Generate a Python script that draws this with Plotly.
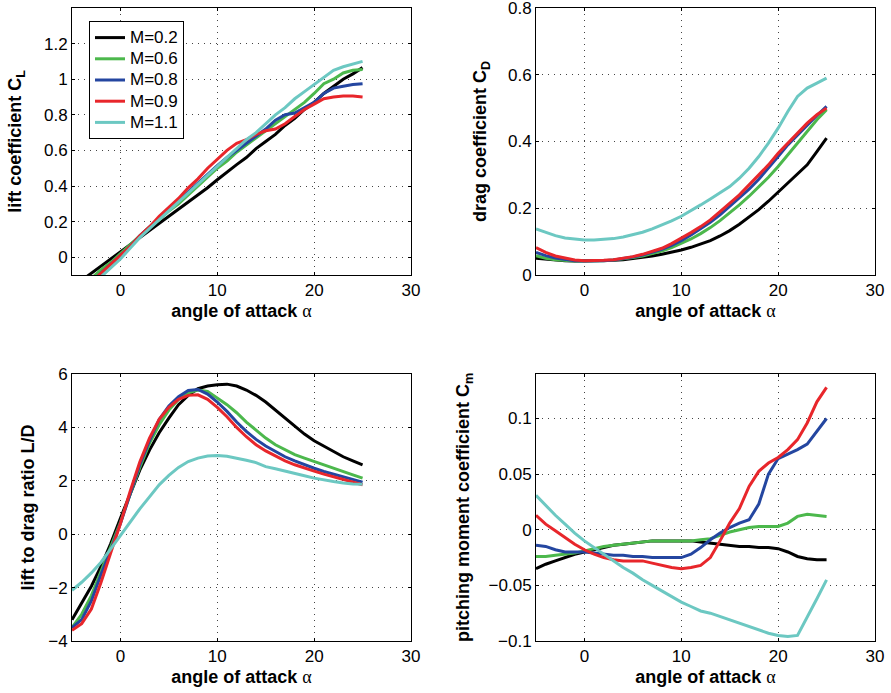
import plotly.graph_objects as go

alpha = list(range(-5, 26))
mach_labels = ["M=0.2", "M=0.6", "M=0.8", "M=0.9", "M=1.1"]
colors = ["#000000", "#4cb84c", "#2446a0", "#e8262b", "#6cc8c2"]

cl_m02 = [-0.17, -0.13, -0.09, -0.05, -0.01, 0.03, 0.07, 0.11, 0.15, 0.19, 0.23, 0.27, 0.31, 0.35, 0.39, 0.435,
          0.48, 0.52, 0.56, 0.61, 0.65, 0.69, 0.74, 0.78, 0.83, 0.87, 0.92, 0.96, 1.0, 1.03, 1.065]
cl_m06 = [-0.2, -0.16, -0.12, -0.07, -0.03, 0.02, 0.07, 0.12, 0.17, 0.21, 0.26, 0.3, 0.35, 0.4, 0.45, 0.5,
          0.54, 0.59, 0.63, 0.67, 0.71, 0.75, 0.79, 0.83, 0.87, 0.92, 0.975, 1.0, 1.035, 1.05, 1.055]
cl_m08 = [-0.22, -0.18, -0.14, -0.09, -0.04, 0.01, 0.06, 0.12, 0.17, 0.22, 0.27, 0.32, 0.37, 0.42, 0.47, 0.515,
          0.56, 0.6, 0.64, 0.68, 0.72, 0.77, 0.8, 0.81, 0.84, 0.87, 0.92, 0.95, 0.96, 0.97, 0.975]
cl_m09 = [-0.23, -0.18, -0.14, -0.09, -0.04, 0.01, 0.06, 0.12, 0.17, 0.23, 0.28, 0.33, 0.39, 0.44, 0.5, 0.55,
          0.6, 0.64, 0.66, 0.69, 0.71, 0.72, 0.75, 0.79, 0.83, 0.86, 0.89, 0.9, 0.905, 0.905, 0.9]
cl_m11 = [-0.26, -0.21, -0.16, -0.11, -0.06, -0.01, 0.05, 0.11, 0.16, 0.21, 0.26, 0.31, 0.36, 0.41, 0.46, 0.51,
          0.56, 0.61, 0.66, 0.7, 0.75, 0.8, 0.84, 0.89, 0.93, 0.97, 1.01, 1.05, 1.07, 1.085, 1.1]

cd_m02 = [0.05, 0.047, 0.045, 0.043, 0.042, 0.042, 0.042, 0.043, 0.044, 0.046, 0.049, 0.053, 0.057, 0.062, 0.068, 0.075,
          0.083, 0.092, 0.103, 0.117, 0.133, 0.152, 0.173, 0.196, 0.221, 0.248, 0.273, 0.3, 0.33, 0.37, 0.41]
cd_m06 = [0.058, 0.05, 0.046, 0.043, 0.042, 0.042, 0.042, 0.043, 0.045, 0.048, 0.052, 0.057, 0.064, 0.072, 0.082, 0.094,
          0.108, 0.124, 0.142, 0.163, 0.186, 0.21, 0.236, 0.264, 0.293, 0.325, 0.36, 0.395, 0.43, 0.465, 0.495]
cd_m08 = [0.068, 0.058, 0.051, 0.046, 0.043, 0.042, 0.042, 0.043, 0.045, 0.049, 0.054, 0.06, 0.068, 0.077, 0.089, 0.103,
          0.12, 0.138, 0.158, 0.18, 0.205, 0.23, 0.257, 0.287, 0.32, 0.355, 0.39, 0.42, 0.45, 0.478, 0.505]
cd_m09 = [0.082, 0.068, 0.057, 0.05, 0.045, 0.043, 0.043, 0.044, 0.046, 0.05, 0.055, 0.062, 0.07, 0.08, 0.094, 0.11,
          0.127, 0.145, 0.165, 0.19, 0.215, 0.24, 0.27, 0.3, 0.33, 0.365, 0.395, 0.425, 0.455, 0.48, 0.5]
cd_m11 = [0.138, 0.127, 0.118, 0.111, 0.107, 0.105, 0.105, 0.106, 0.109, 0.114, 0.12, 0.128, 0.138, 0.149, 0.162, 0.176,
          0.192, 0.21, 0.228, 0.247, 0.265, 0.29, 0.32, 0.355, 0.395, 0.44, 0.49, 0.535, 0.56, 0.575, 0.59]

ld_m02 = [-3.2, -2.6, -1.95, -1.2, -0.35, 0.6, 1.5, 2.4, 3.15, 3.8, 4.35, 4.85, 5.2, 5.45, 5.55, 5.6,
          5.62, 5.55, 5.4, 5.2, 4.95, 4.65, 4.35, 4.05, 3.75, 3.5, 3.3, 3.1, 2.9, 2.75, 2.6]
ld_m06 = [-3.5, -3.0, -2.3, -1.4, -0.5, 0.45, 1.5, 2.5, 3.4, 4.1, 4.65, 5.05, 5.3, 5.4, 5.35, 5.1,
          4.85, 4.55, 4.2, 3.9, 3.6, 3.35, 3.15, 2.98, 2.85, 2.72, 2.6, 2.48, 2.35, 2.22, 2.1]
ld_m08 = [-3.5, -3.2, -2.5, -1.5, -0.6, 0.4, 1.5, 2.6, 3.5, 4.3, 4.8, 5.15, 5.38, 5.42, 5.25, 4.95,
          4.6, 4.2, 3.85, 3.55, 3.3, 3.1, 2.9, 2.75, 2.6, 2.47, 2.35, 2.25, 2.15, 2.05, 1.95]
ld_m09 = [-3.6, -3.35, -2.8, -1.8, -0.7, 0.4, 1.6, 2.7, 3.6, 4.3, 4.75, 5.05, 5.2, 5.22, 5.05, 4.75,
          4.4, 4.0, 3.65, 3.35, 3.12, 2.92, 2.75, 2.6, 2.47, 2.36, 2.25, 2.15, 2.05, 1.95, 1.85]
ld_m11 = [-2.1, -1.8, -1.45, -1.05, -0.55, -0.05, 0.45, 0.95, 1.4, 1.85, 2.2, 2.5, 2.72, 2.85, 2.93, 2.95,
          2.92, 2.85, 2.77, 2.68, 2.53, 2.45, 2.37, 2.28, 2.19, 2.1, 2.03, 1.97, 1.92, 1.88, 1.87]

cm_m02 = [-0.035, -0.031, -0.028, -0.025, -0.022, -0.02, -0.018, -0.016, -0.014, -0.013, -0.012, -0.011, -0.01, -0.01, -0.01, -0.01,
          -0.01, -0.011, -0.012, -0.013, -0.014, -0.015, -0.015, -0.016, -0.016, -0.017, -0.02, -0.024, -0.026, -0.027, -0.027]
cm_m06 = [-0.024, -0.024, -0.023, -0.022, -0.021, -0.019, -0.017, -0.015, -0.014, -0.013, -0.012, -0.011, -0.01, -0.01, -0.01, -0.01,
          -0.01, -0.009, -0.008, -0.005, -0.002, 0.0, 0.002, 0.003, 0.003, 0.003, 0.006, 0.012, 0.014, 0.013, 0.012]
cm_m08 = [-0.014, -0.015, -0.018, -0.02, -0.02, -0.02, -0.021, -0.022, -0.023, -0.023, -0.024, -0.024, -0.025, -0.025, -0.025, -0.025,
          -0.022, -0.016, -0.009, -0.003, 0.002, 0.006, 0.009, 0.023, 0.05, 0.064, 0.068, 0.072, 0.077, 0.088, 0.1]
cm_m09 = [0.013, 0.005, -0.001, -0.007, -0.013, -0.018, -0.022, -0.025, -0.027, -0.028, -0.028, -0.028, -0.03, -0.032, -0.034, -0.035,
          -0.034, -0.032, -0.025, -0.01, 0.006, 0.019, 0.039, 0.0525, 0.06, 0.065, 0.072, 0.081, 0.096, 0.115, 0.128]
cm_m11 = [0.031, 0.022, 0.013, 0.005, -0.003, -0.01, -0.016, -0.022, -0.028, -0.034, -0.039, -0.045, -0.05, -0.055, -0.06, -0.065,
          -0.069, -0.073, -0.075, -0.078, -0.081, -0.084, -0.087, -0.09, -0.093, -0.095, -0.096, -0.095, -0.079, -0.062, -0.045]

x_ticks = [0, 10, 20, 30]
cl_ticks = [0, 0.2, 0.4, 0.6, 0.8, 1.0, 1.2]
cl_ticktext = ["0", "0.2", "0.4", "0.6", "0.8", "1", "1.2"]
cd_ticks = [0, 0.2, 0.4, 0.6, 0.8]
cd_ticktext = ["0", "0.2", "0.4", "0.6", "0.8"]
ld_ticks = [-4, -2, 0, 2, 4, 6]
ld_ticktext = ["\u22124", "\u22122", "0", "2", "4", "6"]
cm_ticks = [-0.1, -0.05, 0, 0.05, 0.1]
cm_ticktext = ["\u22120.1", "\u22120.05", "0", "0.05", "0.1"]

panels = [
    ([cl_m02, cl_m06, cl_m08, cl_m09, cl_m11], "x", "y"),
    ([cd_m02, cd_m06, cd_m08, cd_m09, cd_m11], "x2", "y2"),
    ([ld_m02, ld_m06, ld_m08, ld_m09, ld_m11], "x3", "y3"),
    ([cm_m02, cm_m06, cm_m08, cm_m09, cm_m11], "x4", "y4"),
]

fig = go.Figure()
for pi, (series, xa, ya) in enumerate(panels):
    for i, vals in enumerate(series):
        fig.add_trace(go.Scatter(
            x=alpha, y=vals, xaxis=xa, yaxis=ya, mode="lines",
            line=dict(color=colors[i], width=3),
            name='<span style="font-size:17px">' + mach_labels[i] + "</span>",
            showlegend=(pi == 0),
        ))

FONT = "Liberation Sans, Arial, Helvetica, sans-serif"
xtitle = "<b>angle of attack </b><span style=\"font-family:'Liberation Serif', serif\">\u03b1</span>"

common_axis = dict(
    showline=True, linecolor="black", linewidth=1, mirror="ticks",
    ticks="inside", ticklen=3, tickcolor="black", automargin=False,
    ticklabeloverflow="allow",
    showgrid=True, gridcolor="#444444", gridwidth=1, griddash="1px,5px",
    zeroline=False, tickfont=dict(size=17, color="black", family=FONT),
)

xd_left = [72 / 891, 411 / 891]
xd_right = [536 / 891, 875 / 891]
yd_top = [1 - 275 / 693, 1 - 8 / 693]
yd_bot = [1 - 641 / 693, 1 - 374 / 693]

def xaxis(domain, anchor):
    d = dict(common_axis)
    d.update(domain=domain, anchor=anchor, range=[-5, 30], tickvals=x_ticks,
             title=dict(text=xtitle, font=dict(size=18, color="black", family=FONT), standoff=4))
    return d

def yaxis(domain, anchor, rng, tv, tt, title, standoff):
    d = dict(common_axis)
    d.update(domain=domain, anchor=anchor, range=rng, tickvals=tv, ticktext=tt,
             title=dict(text=title, font=dict(size=18, color="black", family=FONT), standoff=standoff))
    return d

fig.update_layout(
    template="none",
    width=891, height=693,
    margin=dict(l=0, r=0, t=0, b=0, autoexpand=False),
    paper_bgcolor="white", plot_bgcolor="white",
    font=dict(family=FONT, color="black"),
    xaxis=xaxis(xd_left, "y"),
    yaxis=yaxis(yd_top, "x", [-0.1, 1.4], cl_ticks, cl_ticktext, "<b>lift coefficient C<sub>L</sub></b>", 17),
    xaxis2=xaxis(xd_right, "y2"),
    yaxis2=yaxis(yd_top, "x2", [0, 0.8], cd_ticks, cd_ticktext, "<b>drag coefficient C<sub>D</sub></b>", 16),
    xaxis3=xaxis(xd_left, "y3"),
    yaxis3=yaxis(yd_bot, "x3", [-4, 6], ld_ticks, ld_ticktext, "<b>lift to drag ratio L/D</b>", 8),
    xaxis4=xaxis(xd_right, "y4"),
    yaxis4=yaxis(yd_bot, "x4", [-0.1, 0.14], cm_ticks, cm_ticktext, "<b>pitching moment coefficient C<sub>m</sub></b>", 14),
    legend=dict(
        x=89 / 891, y=1 - 21 / 693, xanchor="left", yanchor="top",
        bgcolor="white", bordercolor="black", borderwidth=1,
        font=dict(size=14, color="black", family=FONT),
        itemwidth=30, tracegroupgap=0,
    ),
)

fig.write_html("out.html")
